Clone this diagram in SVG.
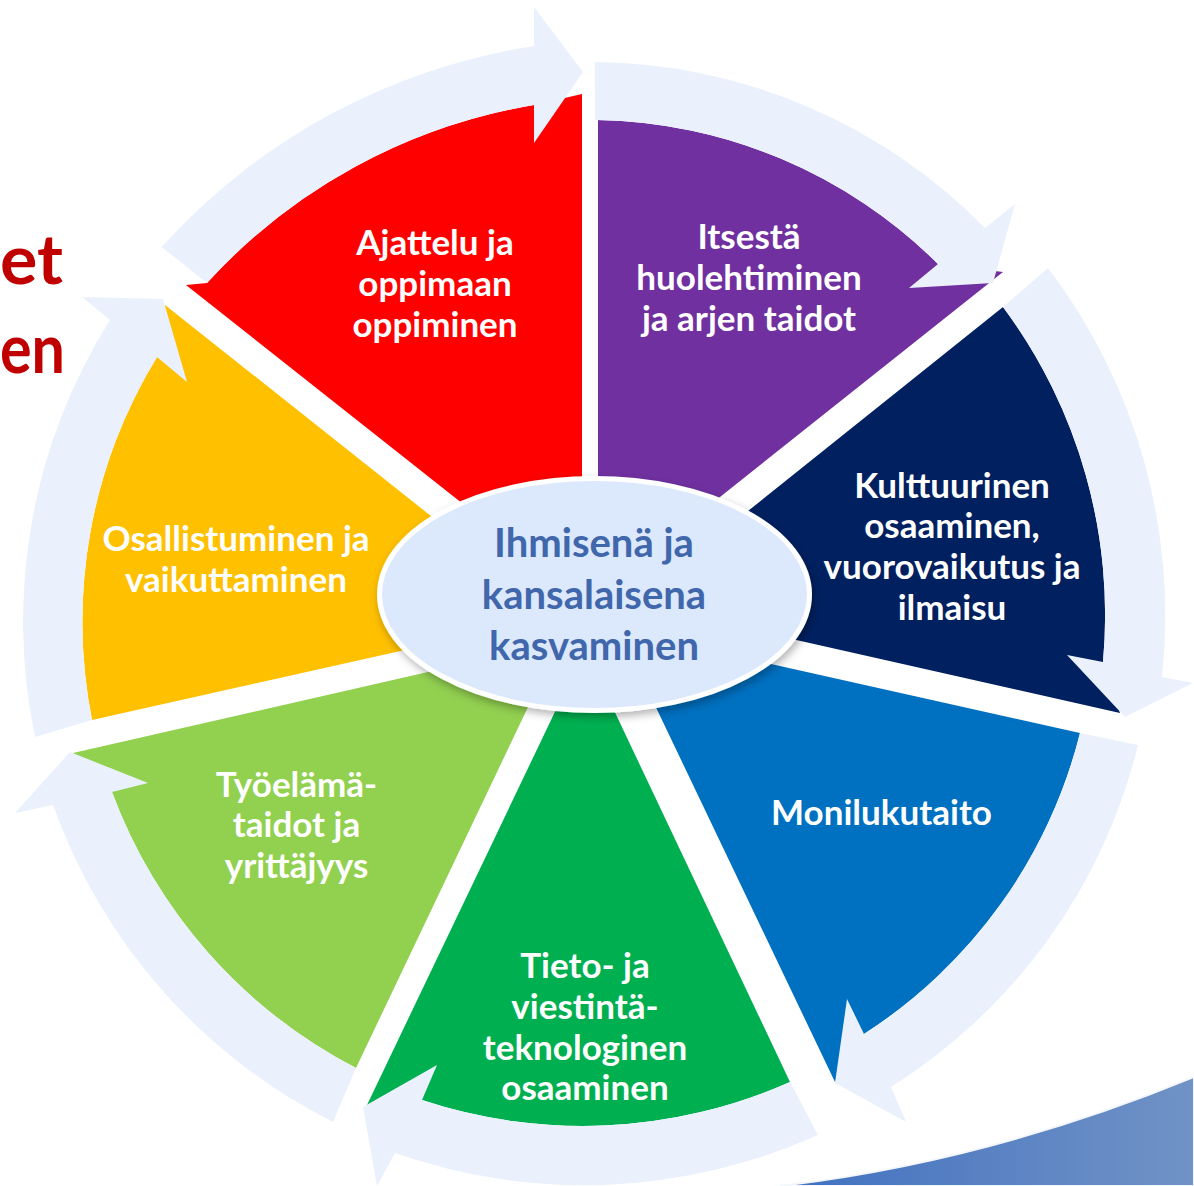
<svg xmlns="http://www.w3.org/2000/svg" width="1194" height="1186" viewBox="0 0 1194 1186">
  <defs>
    <linearGradient id="swoosh" x1="780" y1="0" x2="1194" y2="0" gradientUnits="userSpaceOnUse">
      <stop offset="0" stop-color="#3f70c0"/>
      <stop offset="0.5" stop-color="#5a82c3"/>
      <stop offset="1" stop-color="#7092c6"/>
    </linearGradient>
    <filter id="shadow" x="-10%" y="-15%" width="120%" height="135%">
      <feDropShadow dx="2" dy="4" stdDeviation="4" flood-color="#000" flood-opacity="0.3"/>
    </filter>
  </defs>
  <style>
    .lbl { font-family: Lato, "Open Sans", sans-serif; font-weight: 700; font-size: 35px; fill: #ffffff; text-anchor: middle; }
    .ctr { font-family: Lato, "Open Sans", sans-serif; font-weight: 700; font-size: 40px; fill: #4066ab; text-anchor: middle; }
    .side { font-family: Lato, "Open Sans", sans-serif; font-weight: 700; font-size: 68px; fill: #c00000; text-anchor: start; }
    .arrow { fill: #eaf1fd; }
  </style>
  <rect width="1194" height="1186" fill="#ffffff"/>

  <g id="side-title">
    <text class="side" x="0" y="284" textLength="63" lengthAdjust="spacingAndGlyphs">et</text>
    <text class="side" x="0" y="373" textLength="65" lengthAdjust="spacingAndGlyphs">en</text>
  </g>

  <path id="swoosh-shape" d="M780,1186 Q987,1162 1194,1077 L1194,1186 Z" fill="url(#swoosh)" stroke="#f3f6fb" stroke-width="2"/>

  <g id="node-ajattelu">
    <path d="M186,285 L207,283 A570,570 0 0 1 534,105 L582,94 L582,598 Z" fill="#ff0000"/>
    <text class="lbl" x="435" y="254.5">Ajattelu ja</text>
    <text class="lbl" x="435" y="295.5">oppimaan</text>
    <text class="lbl" x="435" y="336.5">oppiminen</text>
  </g>
  <g id="node-itsesta">
    <path d="M598,120 A495,495 0 0 1 938,264 L1003,272 L598,594 Z" fill="#7030a0"/>
    <text class="lbl" x="749" y="249">Itsestä</text>
    <text class="lbl" x="749" y="290">huolehtiminen</text>
    <text class="lbl" x="749" y="331">ja arjen taidot</text>
  </g>
  <g id="node-kulttuurinen">
    <path d="M1003,307 A516,516 0 0 1 1103,662 L1120,713 L633,603 Z" fill="#002060"/>
    <text class="lbl" x="952" y="497.5">Kulttuurinen</text>
    <text class="lbl" x="952" y="538">osaaminen,</text>
    <text class="lbl" x="952" y="578.5">vuorovaikutus ja</text>
    <text class="lbl" x="952" y="619.5">ilmaisu</text>
  </g>
  <g id="node-monilukutaito">
    <path d="M1080,733 A503,503 0 0 1 864,1034 L835,1082 L619,630 Z" fill="#0070c0"/>
    <text class="lbl" x="881.5" y="825">Monilukutaito</text>
  </g>
  <g id="node-tieto">
    <path d="M790,1082 A511,511 0 0 1 422,1100 L367,1105 L585,649 Z" fill="#00b050"/>
    <text class="lbl" x="585" y="977.5">Tieto- ja</text>
    <text class="lbl" x="585" y="1018.5">viestintä-</text>
    <text class="lbl" x="585" y="1059.5">teknologinen</text>
    <text class="lbl" x="585" y="1100">osaaminen</text>
  </g>
  <g id="node-tyoelama">
    <path d="M356,1068 A510,510 0 0 1 112,792 L73,753 L559,642 Z" fill="#92d050"/>
    <text class="lbl" x="296.5" y="796.5">Työelämä-</text>
    <text class="lbl" x="296.5" y="837">taidot ja</text>
    <text class="lbl" x="296.5" y="877.5">yrittäjyys</text>
  </g>
  <g id="node-osallistuminen">
    <path d="M92,720 A507,507 0 0 1 157,357 L165,305 L557,616 Z" fill="#ffc000"/>
    <text class="lbl" x="236" y="551">Osallistuminen ja</text>
    <text class="lbl" x="236" y="592">vaikuttaminen</text>
  </g>

  <g id="connectors">
    <path class="arrow" d="M161.7,247 A629,629 0 0 1 534,46 L534,7 L583,72 L534,143 L534,105 A570,570 0 0 0 207,283 Z"/>
    <path class="arrow" d="M595,62 A553,553 0 0 1 985,228 L1015,204 L993,283 L909,288 L938,264 A495,495 0 0 0 595,120 Z"/>
    <path class="arrow" d="M1048,268 A574,574 0 0 1 1162,677 L1193,683 L1125,717 L1067,655 L1103,662 A516,516 0 0 0 1003,307 Z"/>
    <path class="arrow" d="M1138,745 A562,562 0 0 1 891,1087 L906,1122 L835,1083 L847,999 L864,1034 A503,503 0 0 0 1080,733 Z"/>
    <path class="arrow" d="M818,1135 A570,570 0 0 1 395,1153 L377,1186 L363,1107 L437,1065 L422,1100 A511,511 0 0 0 790,1082 Z"/>
    <path class="arrow" d="M333,1122 A569,569 0 0 1 53,805 L15,813 L70,752 L148,783 L112,792 A510,510 0 0 0 356,1068 Z"/>
    <path class="arrow" d="M35,737 A566,566 0 0 1 110,320 L82,297 L163,299 L187,382 L157,357 A507,507 0 0 0 92,720 Z"/>
  </g>

  <g id="node-center">
    <ellipse cx="594.5" cy="594.5" rx="215" ry="116" fill="#dce8fb" stroke="#ffffff" stroke-width="5" filter="url(#shadow)"/>
    <text class="ctr" x="594" y="557">Ihmisenä ja</text>
    <text class="ctr" x="594" y="608.5">kansalaisena</text>
    <text class="ctr" x="594" y="660">kasvaminen</text>
  </g>
</svg>
